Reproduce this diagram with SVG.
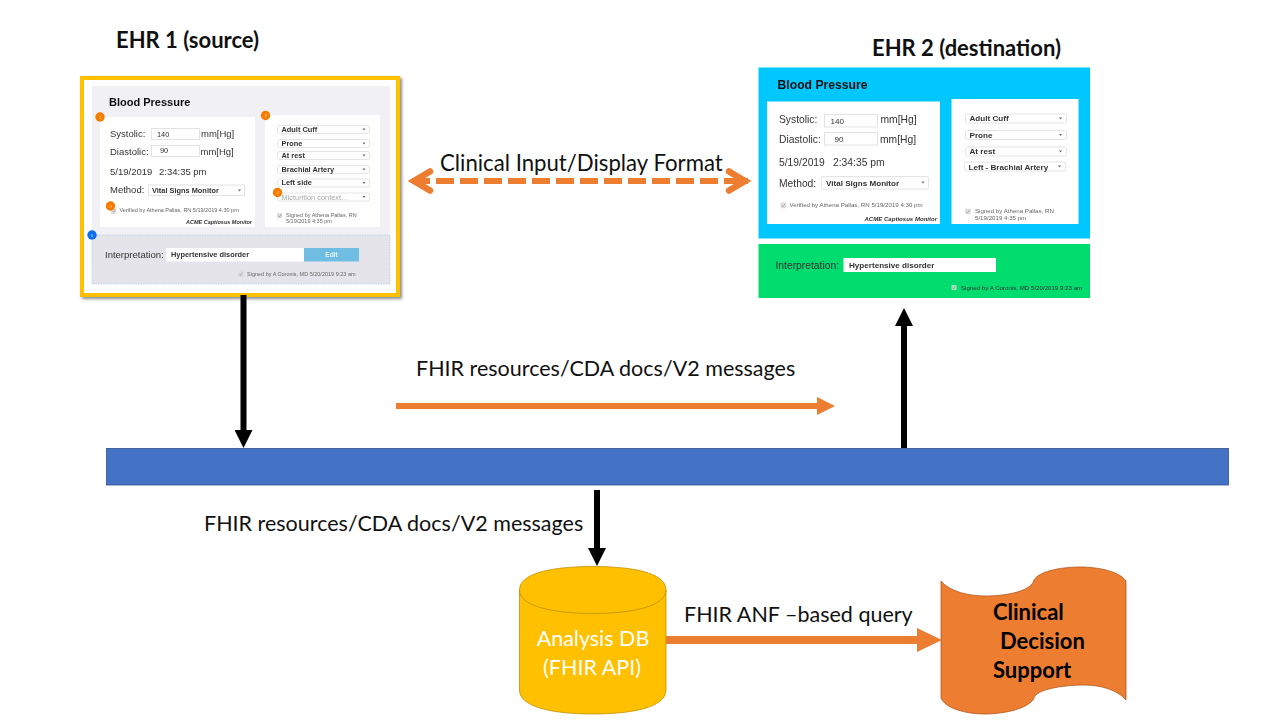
<svg xmlns="http://www.w3.org/2000/svg" width="1280" height="720" viewBox="0 0 1280 720">
<style>
text{font-family:"Liberation Sans",Arial,sans-serif;fill:#333}
.cal{font-family:Lato,"Open Sans",sans-serif;fill:#111}
.h{font-size:11px;font-weight:bold;fill:#111}
.f{font-size:9.5px}
.v{font-size:7.4px;font-weight:bold}
.n{font-weight:normal}
.g{font-weight:normal;fill:#aaa}
.s{font-size:5.5px;fill:#666}
.a{font-size:5.5px;font-weight:bold;font-style:italic}
.d{font-size:4px;fill:#ffd9a8;text-anchor:middle}
#ehr2 .h{font-size:12.2px}
#ehr2 .f{font-size:10.3px}
#ehr2 .v{font-size:8.1px}
#ehr2 .s{font-size:6.15px}
#ehr2 .a{font-size:6.05px}
.sel,.inp{fill:#fff;stroke:#ddd;stroke-width:.8}
.tri{fill:#666}
.chk{fill:#e2e2e2;stroke:#ccc;stroke-width:.4}
.tick{fill:none;stroke:#888;stroke-width:.6}
.ob{fill:#f57c00}
.wh{fill:#fff}
.blk{stroke:#000;stroke-width:6;fill:none;marker-end:url(#ab)}
.org{stroke:#ed7d31;fill:none}
</style>
<defs>
<filter id="sh" x="-5%" y="-5%" width="112%" height="112%"><feDropShadow dx="2" dy="2" stdDeviation="1.5" flood-color="#000" flood-opacity=".45"/></filter>
<filter id="soft" x="-2%" y="-2%" width="104%" height="104%"><feGaussianBlur stdDeviation=".35"/></filter>
<marker id="ab" markerUnits="userSpaceOnUse" markerWidth="18" markerHeight="18" refX="0" refY="9" orient="auto"><path d="M0 0L18 9L0 18Z" fill="#000"/></marker>
<marker id="ao" markerUnits="userSpaceOnUse" markerWidth="18" markerHeight="18" refX="0" refY="9" orient="auto"><path d="M0 0L18 9L0 18Z" fill="#ed7d31"/></marker>
<marker id="aob" markerUnits="userSpaceOnUse" markerWidth="25" markerHeight="24" refX="0" refY="12" orient="auto"><path d="M0 0L25 12L0 24Z" fill="#ed7d31"/></marker>
</defs>

<g id="title-ehr1"><text class="cal" x="116" y="48" font-size="22" font-weight="bold">EHR 1 (source)</text></g>
<g id="title-ehr2"><text class="cal" x="872" y="56" font-size="22" font-weight="bold">EHR 2 (destination)</text></g>

<g id="ehr1">
<rect x="82" y="78" width="316" height="217" fill="#fff" stroke="#ffc000" stroke-width="4" filter="url(#sh)"/>
<g filter="url(#soft)">
<rect x="92" y="86" width="298" height="198" fill="#f0f0f5"/>
<rect x="92" y="235" width="298" height="49" fill="#e4e4ea" stroke="#a9c4e8" stroke-width=".6" stroke-dasharray="1.5 1"/>
<rect x="100" y="117" width="155" height="110" class="wh"/>
<rect x="265" y="115" width="115" height="112" class="wh"/>
<text class="h" x="109" y="106">Blood Pressure</text>
<text class="f" x="110" y="137">Systolic:</text>
<rect x="151.500" y="128.500" width="48" height="11" class="inp"/><text class="v n" x="157" y="136.500">140</text>
<text class="f" x="201" y="137">mm[Hg]</text>
<text class="f" x="110" y="155">Diastolic:</text>
<rect x="151.500" y="145.500" width="48" height="11" class="inp"/><text class="v n" x="160" y="153">90</text>
<text class="f" x="200.500" y="155">mm[Hg]</text>
<text class="f" x="110" y="175">5/19/2019</text><text class="f" x="159" y="175">2:34:35 pm</text>
<text class="f" x="110" y="193">Method:</text>
<rect x="148.500" y="185" width="96" height="10.500" class="sel"/><text class="v" x="152" y="192.500">Vital Signs Monitor</text><path class="tri" d="M238 189.500h3l-1.500 2z"/>
<rect x="111.500" y="209" width="4.500" height="4.500" class="chk"/><path class="tick" d="M112.500 211l1 1.500 2-3"/><text class="s" x="119.500" y="212">Verified by Athena Pallas, RN 5/19/2019 4:30 pm</text>
<text class="a" x="186" y="224">ACME Captiosus Monitor</text>
<rect x="277.500" y="125.500" width="92" height="8" rx="2" class="sel"/><text class="v" x="281.500" y="132">Adult Cuff</text><path class="tri" d="M362.500 128.500h3l-1.500 2z"/>
<rect x="277.500" y="139.500" width="92" height="8" rx="2" class="sel"/><text class="v" x="281.500" y="145.500">Prone</text><path class="tri" d="M362.500 142.500h3l-1.500 2z"/>
<rect x="277.500" y="151.500" width="92" height="8" rx="2" class="sel"/><text class="v" x="281.500" y="157.500">At rest</text><path class="tri" d="M362.500 154.500h3l-1.500 2z"/>
<rect x="277.500" y="165.500" width="92" height="8" rx="2" class="sel"/><text class="v" x="281.500" y="172">Brachial Artery</text><path class="tri" d="M362.500 168.500h3l-1.500 2z"/>
<rect x="277.500" y="179" width="92" height="8" rx="2" class="sel"/><text class="v" x="281.500" y="185">Left side</text><path class="tri" d="M362.500 182h3l-1.500 2z"/>
<rect x="277.500" y="193" width="92" height="8" rx="2" class="sel"/><text class="v g" x="281.500" y="199.500">Micturition context...</text><path class="tri" d="M362.500 196h3l-1.500 2z"/>
<rect x="277.500" y="213.500" width="4.500" height="4.500" class="chk"/><path class="tick" d="M278.500 215.500l1 1.500 2-3"/><text class="s" x="286" y="216.500">Signed by Athena Pallas, RN</text><text class="s" x="286" y="223">5/19/2019 4:35 pm</text>
<text class="f" x="105" y="257.500">Interpretation:</text>
<rect x="166" y="248" width="138" height="13.500" class="wh"/><text class="v" x="171" y="256.500">Hypertensive disorder</text>
<rect x="304" y="248" width="55" height="13.500" fill="#70bde3"/><text x="331.500" y="257" font-size="6.500" font-weight="bold" text-anchor="middle" style="fill:#e8f4fa">Edit</text>
<rect x="238.500" y="272" width="4.500" height="4.500" class="chk"/><path class="tick" d="M239.500 274l1 1.500 2-3"/><text class="s" x="247" y="276">Signed by A Coronis, MD 5/20/2019 9:23 am</text>
<circle cx="100" cy="117" r="4.700" class="ob"/><text class="d" x="100" y="118.500">1</text>
<circle cx="110.500" cy="206" r="4.700" class="ob"/><text class="d" x="110.500" y="207.500">2</text>
<circle cx="265.500" cy="115.500" r="4.700" class="ob"/><text class="d" x="265.500" y="117">3</text>
<circle cx="277.500" cy="192.500" r="4.700" class="ob"/><text class="d" x="277.500" y="194">4</text>
<circle cx="92" cy="235" r="4.700" fill="#0b6ef0"/><text class="d" x="92" y="236.500" style="fill:#cfe2ff">5</text>
</g>
</g>

<g id="ehr2">
<g filter="url(#soft)">
<rect x="758.500" y="67.500" width="331.500" height="171" fill="#00c8ff"/>
<rect x="758.500" y="244" width="331.500" height="54" fill="#00dc6e"/>
<rect x="767" y="101.500" width="173" height="122.500" class="wh"/>
<rect x="951.500" y="99" width="127" height="125" class="wh"/>
<text class="h" x="777.500" y="89">Blood Pressure</text>
<text class="f" x="779" y="123">Systolic:</text>
<rect x="824.500" y="114.500" width="53" height="12.500" class="inp"/><text class="v n" x="830.500" y="123.500">140</text>
<text class="f" x="880.500" y="123">mm[Hg]</text>
<text class="f" x="779" y="143">Diastolic:</text>
<rect x="824.500" y="132.500" width="53" height="12.500" class="inp"/><text class="v n" x="834.500" y="141.500">90</text>
<text class="f" x="880" y="143">mm[Hg]</text>
<text class="f" x="779" y="166">5/19/2019</text><text class="f" x="833" y="166">2:34:35 pm</text>
<text class="f" x="779" y="186.500">Method:</text>
<rect x="821.500" y="176.500" width="107" height="12.500" rx="1.500" class="sel"/><text class="v" x="826" y="185.500">Vital Signs Monitor</text><path class="tri" d="M921.500 181.500h3l-1.500 2z"/>
<rect x="781" y="203" width="5" height="5" class="chk"/><path class="tick" d="M782 205.500l1 1.500 2-3"/><text class="s" x="789.500" y="207">Verified by Athena Pallas, RN 5/19/2019 4:30 pm</text>
<text class="a" x="864.500" y="221">ACME Captiosus Monitor</text>
<rect x="965.500" y="114" width="101" height="9" rx="2" class="sel"/><text class="v" x="969.500" y="121">Adult Cuff</text><path class="tri" d="M1059 117.500h3l-1.500 2z"/>
<rect x="965.500" y="130.500" width="101" height="9" rx="2" class="sel"/><text class="v" x="969.500" y="137.500">Prone</text><path class="tri" d="M1059 134h3l-1.500 2z"/>
<rect x="965.500" y="147" width="101" height="9" rx="2" class="sel"/><text class="v" x="969.500" y="154">At rest</text><path class="tri" d="M1059 150.500h3l-1.500 2z"/>
<rect x="964.500" y="162" width="101" height="9" rx="2" class="sel"/><text class="v" x="968.500" y="169.500">Left - Brachial Artery</text><path class="tri" d="M1058 165.500h3l-1.500 2z"/>
<rect x="965.500" y="209" width="5" height="5" class="chk"/><path class="tick" d="M966.500 211.500l1 1.500 2-3"/><text class="s" x="975" y="212.500">Signed by Athena Pallas, RN</text><text class="s" x="975" y="219.500">5/19/2019 4:35 pm</text>
<text class="f" x="775.500" y="268.500">Interpretation:</text>
<rect x="843.500" y="258" width="152.500" height="14" class="wh"/><text class="v" x="849" y="267.500">Hypertensive disorder</text>
<rect x="951.500" y="285" width="5" height="5" fill="#a8e8c0"/><path class="tick" d="M952.500 287.500l1 1.500 2-3"/><text class="s" x="961" y="289.500" style="fill:#333">Signed by A Coronis, MD 5/20/2019 9:23 am</text>
</g>
</g>

<g id="bus"><rect x="106.500" y="448.500" width="1122" height="36.500" fill="#4472c4" stroke="#2f528f" stroke-width=".8"/></g>

<g id="analysis-db">
<path d="M519.500 590C519.500 572 556 566.500 593 566.500S666 572 666 590V690C666 708 630 714 593 714S519.500 708 519.500 690Z" fill="#ffc000" stroke="#bf9000" stroke-width=".8"/>
<path d="M519.500 590C519.500 607 556 613.500 593 613.500S666 607 666 590" fill="none" stroke="#bf9000" stroke-width=".8"/>
<text class="cal" x="593" y="646" font-size="21.500" text-anchor="middle" style="fill:#fff">Analysis DB</text>
<text class="cal" x="592" y="675" font-size="21.500" text-anchor="middle" style="fill:#fff">(FHIR API)</text>
</g>

<g id="cds">
<path d="M941 581C950 592 970 596 985 596C1010 596 1032 590 1034 580C1040 570 1065 567 1080 567C1100 567 1120 572 1126 581V700C1118 690 1100 685 1085 685C1060 685 1036 690 1034 698C1030 708 1005 714 985 714C965 714 945 708 941 698Z" fill="#ed7d31" stroke="#ae5a21" stroke-width=".8"/>
<text class="cal" x="993" y="620" font-size="22" font-weight="bold" style="fill:#000">Clinical</text>
<text class="cal" x="1000" y="649" font-size="22" font-weight="bold" style="fill:#000">Decision</text>
<text class="cal" x="993" y="678" font-size="22" font-weight="bold" style="fill:#000">Support</text>
</g>

<g id="connectors">
<path class="blk" d="M243.500 295V430"/>
<path class="blk" d="M904 448V326"/>
<path class="blk" d="M597 490V548"/>
<path class="org" d="M396 406H817" stroke-width="6" marker-end="url(#ao)"/>
<path class="org" d="M666 640H917" stroke-width="8" marker-end="url(#aob)"/>
<path class="org" d="M412 181H742" stroke-width="6" stroke-dasharray="18 6"/>
<path class="org" d="M740 181H748" stroke-width="6"/>
<path class="org" d="M430 171.500L414 181L430 190.500M729 171.500L745 181L729 190.500" stroke-width="6.500" stroke-linecap="round" stroke-linejoin="miter"/>
</g>

<g id="labels">
<text class="cal" x="440" y="171" font-size="22.200">Clinical Input/Display Format</text>
<text class="cal" x="416" y="376" font-size="21.500">FHIR resources/CDA docs/V2 messages</text>
<text class="cal" x="204" y="531" font-size="21.500">FHIR resources/CDA docs/V2 messages</text>
<text class="cal" x="684" y="622" font-size="21.500">FHIR ANF –based query</text>
</g>
</svg>
